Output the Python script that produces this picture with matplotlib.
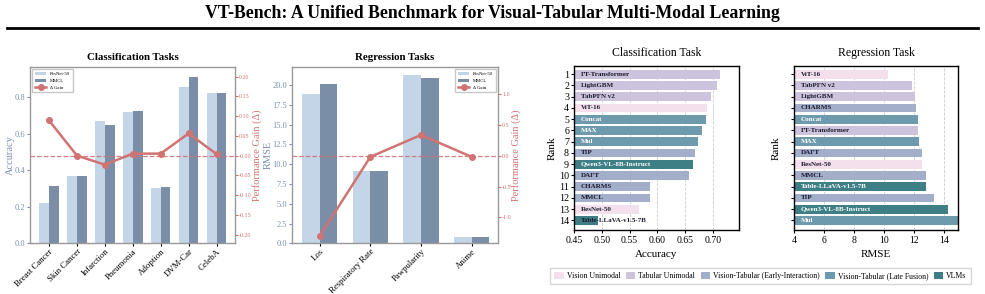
import matplotlib
matplotlib.use("Agg")
import matplotlib.pyplot as plt
from matplotlib.patches import Patch
from matplotlib.lines import Line2D
import numpy as np

plt.rcParams["font.family"] = ["Liberation Serif", "DejaVu Serif"]
plt.rcParams["mathtext.fontset"] = "stix"

# data: left panels
cls_tasks = ["Breast Cancer", "Skin Cancer", "Infarction", "Pneumonia", "Adoption", "DVM-Car", "CelebA"]
cls_resnet = [0.223, 0.370, 0.670, 0.718, 0.302, 0.855, 0.820]
cls_mmcl = [0.312, 0.370, 0.645, 0.723, 0.307, 0.910, 0.823]
cls_gain = [0.089, 0.000, -0.023, 0.005, 0.005, 0.056, 0.004]

reg_tasks = ["Los", "Respiratory Rate", "Pawpularity", "Anime"]
reg_resnet = [18.8, 9.1, 21.2, 0.82]
reg_mmcl = [20.1, 9.1, 20.9, 0.82]
reg_gain = [-1.30, -0.02, 0.335, -0.02]

# data: ranking panels
cls_rank_models = ["FT-Transformer", "LightGBM", "TabPFN v2", "ViT-16", "Concat", "MAX", "Mul",
                   "TIP", "Qwen3-VL-8B-Instruct", "DAFT", "CHARMS", "MMCL", "ResNet-50",
                   "Table-LLaVA-v1.5-7B"]
cls_rank_acc = [0.713, 0.708, 0.697, 0.689, 0.688, 0.681, 0.674, 0.668, 0.664, 0.657,
                0.587, 0.587, 0.567, 0.493]
cls_rank_group = ["tab", "tab", "tab", "vis", "late", "late", "late", "early", "vlm", "early",
                  "early", "early", "vis", "vlm"]

reg_rank_models = ["ViT-16", "TabPFN v2", "LightGBM", "CHARMS", "Concat", "FT-Transformer", "MAX",
                   "DAFT", "ResNet-50", "MMCL", "Table-LLaVA-v1.5-7B", "TIP",
                   "Qwen3-VL-8B-Instruct", "Mul"]
reg_rank_rmse = [10.23, 11.83, 12.03, 12.10, 12.23, 12.23, 12.30, 12.50, 12.50, 12.76, 12.76,
                 13.29, 14.23, 15.30]
reg_rank_group = ["vis", "tab", "tab", "early", "late", "tab", "late", "early", "vis", "early",
                  "vlm", "early", "vlm", "late"]

group_names = {"vis": "Vision Unimodal", "tab": "Tabular Unimodal",
               "early": "Vision-Tabular (Early-Interaction)",
               "late": "Vision-Tabular (Late Fusion)", "vlm": "VLMs"}
group_colors = {"vis": "#f4e0ec", "tab": "#cdc3dc", "early": "#a3aecb",
                "late": "#6e9aae", "vlm": "#3d7f84"}

c_light = "#c3d5e6"
c_dark = "#7b8ea8"
c_red = "#d17373"
c_axis = "#7b8fb0"

fig = plt.figure(figsize=(9.85, 2.94), dpi=100)
fig.text(0.5, 0.955, "VT-Bench: A Unified Benchmark for Visual-Tabular Multi-Modal Learning",
         ha="center", va="center", fontsize=12.8, fontweight="bold")
fig.add_artist(Line2D([0.007, 0.993], [0.905, 0.905], color="black", lw=2,
                      transform=fig.transFigure))


def gain_panel(ax, tasks, resnet, mmcl, gain, title, ylabel, ylim, gylim, gticks, gfmt, legloc,
               xm, lab_x):
    x = np.arange(len(tasks))
    w = 0.35
    ax.bar(x - w / 2, resnet, w, color=c_light, label="ResNet-50")
    ax.bar(x + w / 2, mmcl, w, color=c_dark, label="MMCL")
    ax.set_ylim(*ylim)
    ax.set_xlim(-xm[0], len(tasks) - 1 + xm[1])
    ax.set_xticks(x)
    ax.set_xticklabels(tasks, rotation=45, ha="right", fontsize=6.3, rotation_mode="anchor")
    ax.set_title(title, fontsize=7.8, fontweight="bold", pad=5)
    ax.set_ylabel(ylabel, color=c_axis, fontsize=7.5)
    ax.yaxis.set_label_coords(lab_x[0], 0.5)
    ax.tick_params(axis="y", colors=c_axis, labelsize=6, length=2, pad=1.5)
    ax.tick_params(axis="x", length=2.5, pad=0.5)
    for s in ax.spines.values():
        s.set_color("#999999")
        s.set_linewidth(1.0)
    ax2 = ax.twinx()
    ax2.plot(x, gain, color=c_red, lw=1.8, marker="o", ms=4, label="Δ Gain")
    ax2.axhline(0, color=c_red, ls="--", lw=0.9, alpha=0.9)
    ax2.set_ylim(*gylim)
    ax2.set_yticks(gticks)
    ax2.set_yticklabels([gfmt.format(t) for t in gticks])
    ax2.set_ylabel("Performance Gain (Δ)", color=c_red, fontsize=7.5)
    ax2.yaxis.set_label_coords(lab_x[1], 0.5)
    ax2.tick_params(axis="y", colors=c_red, labelsize=4.3, length=2, pad=1)
    for s in ax2.spines.values():
        s.set_visible(False)
    h1, l1 = ax.get_legend_handles_labels()
    h2, l2 = ax2.get_legend_handles_labels()
    ax.legend(h1 + h2, l1 + l2, loc=legloc, fontsize=3.4, frameon=True, fancybox=False,
              edgecolor="#bbbbbb", handlelength=2.3, borderpad=0.6, labelspacing=0.5)


ax1 = fig.add_axes([0.0305, 0.1724, 0.208, 0.6007])
gain_panel(ax1, cls_tasks, cls_resnet, cls_mmcl, cls_gain, "Classification Tasks", "Accuracy",
           (0, 0.965), (-0.222, 0.225), np.arange(-0.20, 0.201, 0.05), "{:.2f}", "upper left",
           (0.68, 0.66), (-0.075, 1.082))
ax1.set_yticks([0.0, 0.2, 0.4, 0.6, 0.8])

ax2 = fig.add_axes([0.2964, 0.1724, 0.2091, 0.6007])
gain_panel(ax2, reg_tasks, reg_resnet, reg_mmcl, reg_gain, "Regression Tasks", "RMSE",
           (0, 22.3), (-1.42, 1.44), [-1.0, -0.5, 0.0, 0.5, 1.0], "{:.1f}", "upper right",
           (0.55, 0.52), (-0.095, 1.062))
ax2.set_yticks(np.arange(0, 20.1, 2.5))


def rank_panel(ax, models, values, groups, title, xlabel, xlim, xticks, show_rank):
    y = np.arange(1, len(models) + 1)
    ax.barh(y, values, height=0.78, color=[group_colors[g] for g in groups])
    ax.set_xlim(*xlim)
    ax.set_ylim(14.85, 0.25)
    ax.set_xticks(xticks)
    ax.set_yticks(y)
    if show_rank:
        ax.set_yticklabels([str(v) for v in y], fontsize=7.2)
        ax.set_ylabel("Rank", fontsize=8, labelpad=2)
    else:
        ax.set_yticklabels([])
        ax.set_ylabel("Rank", fontsize=8, labelpad=6)
    ax.set_xlabel(xlabel, fontsize=8, labelpad=3.5)
    ax.set_title(title, fontsize=8.5, pad=7)
    ax.tick_params(axis="x", labelsize=7, length=2.5, pad=2)
    ax.tick_params(axis="y", length=2.5, pad=1)
    ax.grid(axis="x", ls="--", color="#cccccc", lw=0.6)
    ax.set_axisbelow(True)
    for s in ax.spines.values():
        s.set_color("black")
        s.set_linewidth(1.0)
    span = xlim[1] - xlim[0]
    for yi, m, v, g in zip(y, models, values, groups):
        long_bar = (v - xlim[0]) / span > 0.3
        col = "white" if g in ("late", "vlm") and long_bar else "#1a1a2e"
        ax.text(xlim[0] + 0.04 * span, yi, m, va="center", ha="left", fontsize=5.0,
                fontweight="bold", color=col)


ax3 = fig.add_axes([0.5827, 0.2177, 0.1675, 0.5588])
rank_panel(ax3, cls_rank_models, cls_rank_acc, cls_rank_group, "Classification Task", "Accuracy",
           (0.45, 0.747), [0.45, 0.50, 0.55, 0.60, 0.65, 0.70], True)
ax3.set_xticklabels(["0.45", "0.50", "0.55", "0.60", "0.65", "0.70"])

ax4 = fig.add_axes([0.8061, 0.2177, 0.1668, 0.5588])
rank_panel(ax4, reg_rank_models, reg_rank_rmse, reg_rank_group, "Regression Task", "RMSE",
           (4, 14.93), [4, 6, 8, 10, 12, 14], False)

handles = [Patch(facecolor=group_colors[k], label=group_names[k]) for k in group_names]
fig.legend(handles=handles, loc="center", bbox_to_anchor=(0.772, 0.061), ncol=5, fontsize=5.6,
           frameon=True, fancybox=False, edgecolor="#cccccc", handlelength=1.2,
           handleheight=0.9, columnspacing=0.7, handletextpad=0.4, borderpad=0.55)

fig.savefig("out.png", dpi=100)
